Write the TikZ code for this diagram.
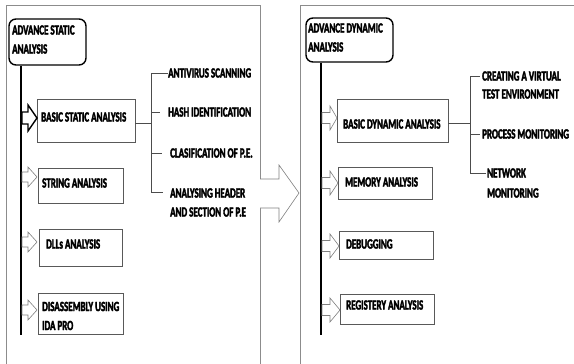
\documentclass[tikz,border=0pt]{standalone}
\usepackage{fontspec}
\setmainfont{Carlito Bold}[FakeStretch=0.64,FakeBold=2.5]
\begin{document}
\begin{tikzpicture}[x=1pt,y=-1pt,
  frame/.style={draw=black!45,line width=0.9pt},
  titlebox/.style={draw=black,line width=1.4pt,rounded corners=7pt,inner sep=0pt},
  itembox/.style={draw=black!65,line width=0.8pt,inner sep=0pt},
  lbl/.style={font=\fontsize{14}{19}\selectfont,inner sep=0pt,anchor=west,align=left,text=black},
  spine/.style={draw=black,line width=1.3pt},
  brace/.style={draw=black!70,line width=0.7pt},
  harrow/.style={draw=black!50,line width=0.6pt,fill=white},
  karrow/.style={draw=black,line width=1.4pt,fill=white},
  bigarrow/.style={draw=black!50,line width=0.6pt,fill=white}]
\useasboundingbox (0,0) rectangle (574,364);
% frames
\draw[frame] (6,364) -- (6,5) -- (260,5) -- (260,364);
\draw[frame] (300,364) -- (300,5) -- (574,5);
% big arrow between panels
\draw[bigarrow] (260,179) -- (279,179) -- (279,165) -- (299,193) -- (279,222) -- (279,208) -- (260,208);

% ---------------- left panel ----------------
\node[titlebox,minimum width=77pt,minimum height=46pt] (t1) at (47.5,42) {};
\node[lbl] (t1l) at (12,39.5) {ADVANCE STATIC\\ANALYSIS};

\node[itembox,minimum width=98pt,minimum height=43pt] (bs) at (86,120.5) {};
\node[lbl] (bsl) at (41,117) {BASIC STATIC ANALYSIS};
\node[itembox,minimum width=85pt,minimum height=35pt] (sa) at (80.5,185.5) {};
\node[lbl] (sal) at (42,183) {STRING ANALYSIS};
\node[itembox,minimum width=83pt,minimum height=37pt] (dl) at (80.5,247.5) {};
\node[lbl] (dll) at (46,244) {DLLs ANALYSIS};
\node[itembox,minimum width=85pt,minimum height=41pt] (da) at (80.5,313.5) {};
\node[lbl] (dal) at (42,316) {DISASSEMBLY USING\\IDA PRO};

\coordinate (s1end) at (21,335);
\draw[spine] (t1.south -| s1end) -- (s1end);

% arrows
\draw[karrow] (22,112) -- (28,112) -- (28,105) -- (37,118) -- (28,131) -- (28,124) -- (22,124) -- cycle;
\draw[harrow] (22,172) -- (28,172) -- (28,167) -- (37,177) -- (28,187) -- (28,182) -- (22,182) -- cycle;
\draw[harrow] (22,237) -- (28,237) -- (28,232) -- (37,242) -- (28,252) -- (28,247) -- (22,247) -- cycle;
\draw[harrow] (22,305) -- (28,305) -- (28,300) -- (37,310) -- (28,320) -- (28,315) -- (22,315) -- cycle;

% static sub items
\node[lbl] (av) at (168,73) {ANTIVIRUS SCANNING};
\node[lbl] (hi) at (168,112) {HASH IDENTIFICATION};
\node[lbl] (cp) at (170,153) {CLASIFICATION OF P.E.};
\node[lbl] (ah) at (170,202.5) {ANALYSING HEADER\\AND SECTION OF P.E};
\coordinate (bj) at (151,123);
\coordinate (bt) at (151,73);
\coordinate (bb) at (151,192);
\draw[brace] (bs.east |- bj) -- (bj);
\draw[brace] (av.west) -- (bt) -- (bb) -- ([xshift=-7pt]ah.west |- bb);
\draw[brace] (bt |- hi) -- ([xshift=-8pt]hi.west);
\draw[brace] (bt |- cp) -- ([xshift=-8pt]cp.west);

% ---------------- right panel ----------------
\node[titlebox,minimum width=87pt,minimum height=44pt] (t2) at (349.5,40) {};
\node[lbl] (t2l) at (308,37.5) {ADVANCE DYNAMIC\\ANALYSIS};

\node[itembox,minimum width=111pt,minimum height=43pt] (bd) at (392.5,120.5) {};
\node[lbl] (bdl) at (343,124) {BASIC DYNAMIC ANALYSIS};
\node[itembox,minimum width=94pt,minimum height=32pt] (ma) at (385,183) {};
\node[lbl] (mal) at (345,182) {MEMORY ANALYSIS};
\node[itembox,minimum width=94pt,minimum height=28pt] (db) at (386,245) {};
\node[lbl] (dbl) at (346,244) {DEBUGGING};
\node[itembox,minimum width=94pt,minimum height=30pt] (ra) at (387,309) {};
\node[lbl] (ral) at (346,305) {REGISTERY ANALYSIS};

\coordinate (s2end) at (321,335);
\draw[spine] (t2.south -| s2end) -- (s2end);

\draw[harrow] (322,112.5) -- (330,112.5) -- (330,106) -- (337,118) -- (330,130) -- (330,123.5) -- (322,123.5) -- cycle;
\draw[harrow] (322,177.5) -- (330,177.5) -- (330,171) -- (338,183) -- (330,195) -- (330,188.5) -- (322,188.5) -- cycle;
\draw[harrow] (322,240.5) -- (330,240.5) -- (330,234) -- (339,246) -- (330,258) -- (330,251.5) -- (322,251.5) -- cycle;
\draw[harrow] (322,304.5) -- (330,304.5) -- (330,298) -- (340,310) -- (330,322) -- (330,315.5) -- (322,315.5) -- cycle;

% dynamic sub items
\node[lbl,font=\fontsize{14}{18}\selectfont] (cv) at (482,85) {CREATING A VIRTUAL\\TEST ENVIRONMENT};
\node[lbl] (pm) at (482,134) {PROCESS MONITORING};
\node[lbl,font=\fontsize{14}{20}\selectfont] (nm) at (487,183) {NETWORK\\MONITORING};
\coordinate (dj) at (470,123);
\coordinate (dt) at (470,76);
\coordinate (dbm) at (470,173);
\draw[brace] (bd.east |- dj) -- (dj);
\draw[brace] ([xshift=-2pt]cv.west |- dt) -- (dt) -- (dbm) -- ([xshift=-1pt]nm.west |- dbm);
\draw[brace] (dt |- pm) -- ([xshift=-2pt]pm.west);
\end{tikzpicture}
\end{document}
